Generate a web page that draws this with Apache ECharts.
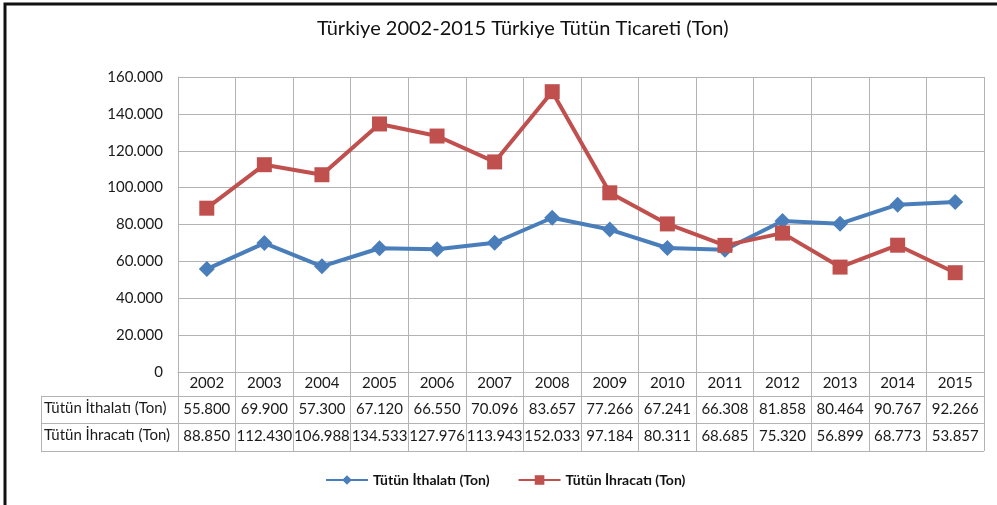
<!DOCTYPE html>
<html>
<head>
<meta charset="utf-8">
<script src="https://cdn.jsdelivr.net/npm/echarts@6/dist/echarts.min.js"></script>
<style>
  html, body { margin: 0; padding: 0; background: #fff; }
  #main { width: 997px; height: 505px; }
</style>
</head>
<body>
<div id="main"></div>
<script>
  var years = ['2002', '2003', '2004', '2005', '2006', '2007', '2008', '2009', '2010', '2011', '2012', '2013', '2014', '2015'];
  var ithalat = [55800, 69900, 57300, 67120, 66550, 70096, 83657, 77266, 67241, 66308, 81858, 80464, 90767, 92266];
  var ihracat = [88850, 112430, 106988, 134533, 127976, 113943, 152033, 97184, 80311, 68685, 75320, 56899, 68773, 53857];
  var yMin = 0, yMax = 160000, yStep = 20000;
  var names = ['Tütün İthalatı (Ton)', 'Tütün İhracatı (Ton)'];

  // 55800 -> "55.800"
  function fmt (v) {
    return String(v).replace(/\B(?=(\d{3})+(?!\d))/g, '.');
  }

  var font = 'Lato, "Noto Sans", sans-serif';
  var txt = '#1a1a1a';
  var gridColor = '#b3b3b3';
  // careful: "top" is window.top in global scope
  var gLeft = 178, gTop = 77, gWidth = 806, gHeight = 295;
  var tableLeft = 41, rowH = [24, 27, 28];

  var deco = [];
  var yy = gTop + gHeight;
  for (var i = 0; i < rowH.length; i++) {
    yy += rowH[i];
    deco.push({ type: 'line', shape: { x1: tableLeft, y1: yy + 0.5, x2: gLeft + gWidth, y2: yy + 0.5 }, style: { stroke: gridColor, lineWidth: 1 } });
  }
  deco.push({ type: 'line', shape: { x1: tableLeft + 0.5, y1: gTop + gHeight + rowH[0], x2: tableLeft + 0.5, y2: yy }, style: { stroke: gridColor, lineWidth: 1 } });
  deco.push({ type: 'text', x: 44, y: gTop + gHeight + rowH[0] + 5, style: { text: names[0], font: '15px ' + font, fill: txt } });
  deco.push({ type: 'text', x: 44, y: gTop + gHeight + rowH[0] + rowH[1] + 5, style: { text: names[1], font: '15px ' + font, fill: txt } });
  deco.push({ type: 'rect', shape: { x: 5, y: 4, width: 1000, height: 600 }, style: { fill: null, stroke: '#111', lineWidth: 3 }, z: 100 });

  function tableAxis (vals, offset) {
    return {
      type: 'category', data: years, position: 'bottom', offset: offset,
      axisLine: { show: false }, axisTick: { show: false }, splitLine: { show: false },
      axisLabel: { margin: 4, fontSize: 15, fontFamily: font, color: txt, interval: 0,
        formatter: function (v, idx) { return fmt(vals[idx]); } }
    };
  }

  var option = {
    backgroundColor: '#fff',
    animation: false,
    title: {
      text: 'Türkiye 2002-2015 Türkiye Tütün Ticareti (Ton)',
      left: 312, top: 14,
      textStyle: { fontSize: 20, fontWeight: 'normal', fontFamily: font, color: '#111' }
    },
    legend: {
      data: names, left: 320, top: 468, itemWidth: 42, itemHeight: 12, itemGap: 28,
      textStyle: { fontSize: 14, fontWeight: 'bold', fontFamily: font, color: '#111' }
    },
    grid: { left: gLeft, top: gTop, width: gWidth, height: gHeight },
    xAxis: [{
      type: 'category', data: years, position: 'bottom',
      axisLine: { show: true, lineStyle: { color: gridColor } },
      axisTick: { show: true, interval: 0, length: rowH[0] + rowH[1] + rowH[2], lineStyle: { color: gridColor } },
      splitLine: { show: true, interval: 0, lineStyle: { color: gridColor } },
      axisLabel: { margin: 4, fontSize: 15, fontFamily: font, color: txt, interval: 0 }
    },
      tableAxis(ithalat, rowH[0] + 2),
      tableAxis(ihracat, rowH[0] + rowH[1] + 2)
    ],
    yAxis: {
      type: 'value', min: yMin, max: yMax, interval: yStep,
      axisLine: { show: true, lineStyle: { color: gridColor } },
      axisTick: { show: false },
      splitLine: { lineStyle: { color: gridColor } },
      axisLabel: { margin: 15, fontSize: 15, fontFamily: font, color: txt, formatter: function (v) { return fmt(v); } }
    },
    graphic: deco,
    series: [{
      name: names[0], type: 'line', data: ithalat, xAxisIndex: 0,
      symbol: 'diamond', symbolSize: 16,
      lineStyle: { color: '#4a7ebb', width: 4 },
      itemStyle: { color: '#4a7ebb' }
    }, {
      name: names[1], type: 'line', data: ihracat, xAxisIndex: 0,
      symbol: 'rect', symbolSize: 15,
      lineStyle: { color: '#c0504d', width: 4 },
      itemStyle: { color: '#c0504d' }
    }]
  };

  var chart = echarts.init(document.getElementById('main'));
  chart.setOption(option);
</script>
</body>
</html>
